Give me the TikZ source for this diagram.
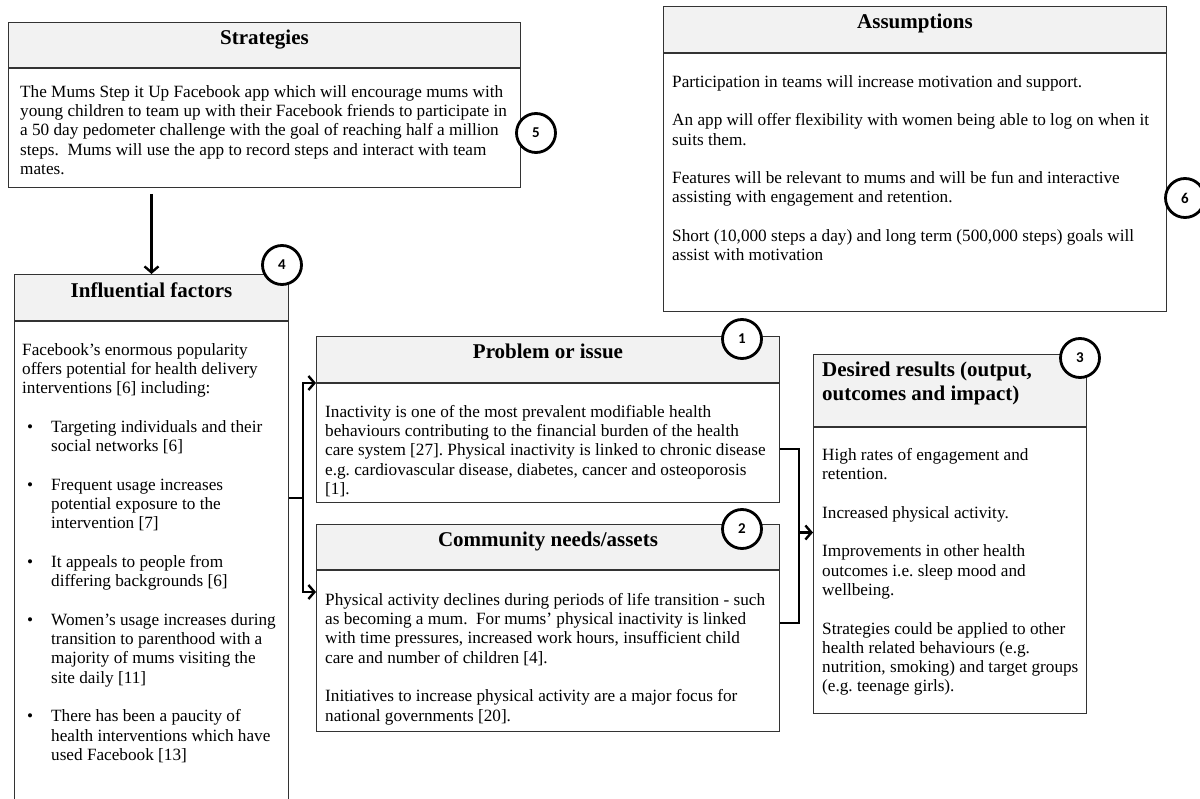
\documentclass[tikz,border=0pt]{standalone}
\usepackage{fontspec}
\setmainfont{Liberation Serif}
\newfontfamily\numfont{Carlito}
\usetikzlibrary{positioning,calc,arrows.meta}
\definecolor{headgray}{HTML}{F2F2F2}
\definecolor{edgegray}{HTML}{333333}
\frenchspacing
\newcommand{\bulit}{\makebox[29pt][l]{\hspace{5pt}\textbullet}}
\newcommand{\bulind}{\hspace*{29pt}}
\tikzset{
  headbox/.style={draw=edgegray, fill=headgray, line width=1pt, anchor=north west, inner sep=0pt},
  bodybox/.style={draw=edgegray, line width=1pt, inner sep=0pt},
  headtitle/.style={font=\bfseries\fontsize{21}{24}\selectfont, inner sep=0pt, anchor=north},
  bodytext/.style={font=\fontsize{17.2}{19.3}\selectfont, align=left, inner sep=0pt, anchor=north west},
  numcirc/.style={circle, draw, fill=white, line width=2.8pt, minimum size=39pt, inner sep=0pt, font=\numfont\bfseries\fontsize{15}{15}\selectfont},
  link/.style={line width=2.4pt},
  flow/.style={link, -{Straight Barb[length=6pt,width=14pt]}}
}
\begin{document}
\begin{tikzpicture}[x=1pt,y=-1pt]
\useasboundingbox (0,0) rectangle (1200,799);

% strategies
\node[headbox, minimum width=512pt, minimum height=45pt] (strathead) at (8,22) {};
\node[headtitle, below=8pt of strathead.north] (strattitle) {Strategies};
\node[bodybox, minimum width=512pt, minimum height=119pt, below=0pt of strathead] (stratbody) {};
\node[bodytext, below right=17pt and 12pt of stratbody.north west] (strattext) {The Mums Step it Up Facebook app which will encourage mums with\\
young children to team up with their Facebook friends to participate in\\
a 50 day pedometer challenge with the goal of reaching half a million\\
steps.\ \ Mums will use the app to record steps and interact with team\\
mates.};

% assumptions
\node[headbox, minimum width=503pt, minimum height=46pt] (assumhead) at (663,6) {};
\node[headtitle, below=8pt of assumhead.north] (assumtitle) {Assumptions};
\node[bodybox, minimum width=503pt, minimum height=258pt, below=0pt of assumhead] (assumbody) {};
\node[bodytext, below right=22pt and 9pt of assumbody.north west] (assumtext) {Participation in teams will increase motivation and support.\\[\baselineskip]
An app will offer flexibility with women being able to log on when it\\
suits them.\\[\baselineskip]
Features will be relevant to mums and will be fun and interactive\\
assisting with engagement and retention.\\[\baselineskip]
Short (10,000 steps a day) and long term (500,000 steps) goals will\\
assist with motivation};

% influential factors
\node[headbox, minimum width=274pt, minimum height=46pt] (infhead) at (14,274) {};
\node[headtitle, below=9pt of infhead.north] (inftitle) {Influential factors};
\node[bodybox, minimum width=274pt, minimum height=510pt, below=0pt of infhead] (infbody) {};
\node[bodytext, below right=22pt and 8pt of infbody.north west] (inftext) {Facebook’s enormous popularity\\
offers potential for health delivery\\
interventions [6] including:\\[\baselineskip]
\bulit Targeting individuals and their\\
\bulind social networks [6]\\[\baselineskip]
\bulit Frequent usage increases\\
\bulind potential exposure to the\\
\bulind intervention [7]\\[\baselineskip]
\bulit It appeals to people from\\
\bulind differing backgrounds [6]\\[\baselineskip]
\bulit Women’s usage increases during\\
\bulind transition to parenthood with a\\
\bulind majority of mums visiting the\\
\bulind site daily [11]\\[\baselineskip]
\bulit There has been a paucity of\\
\bulind health interventions which have\\
\bulind used Facebook [13]};

% problem or issue
\node[headbox, minimum width=463pt, minimum height=46pt] (probhead) at (316,336) {};
\node[headtitle, below=8pt of probhead.north] (probtitle) {Problem or issue};
\node[bodybox, minimum width=463pt, minimum height=119pt, below=0pt of probhead] (probbody) {};
\node[bodytext, below right=22pt and 9pt of probbody.north west] (probtext) {Inactivity is one of the most prevalent modifiable health\\
behaviours contributing to the financial burden of the health\\
care system [27]. Physical inactivity is linked to chronic disease\\
e.g. cardiovascular disease, diabetes, cancer and osteoporosis\\
{[1].}};

% community needs
\node[headbox, minimum width=463pt, minimum height=45pt] (commhead) at (316,524) {};
\node[headtitle, below=8pt of commhead.north] (commtitle) {Community needs/assets};
\node[bodybox, minimum width=463pt, minimum height=161pt, below=0pt of commhead] (commbody) {};
\node[bodytext, below right=23pt and 9pt of commbody.north west] (commtext) {Physical activity declines during periods of life transition - such\\
as becoming a mum.\ \ For mums’ physical inactivity is linked\\
with time pressures, increased work hours, insufficient child\\
care and number of children [4].\\[\baselineskip]
Initiatives to increase physical activity are a major focus for\\
national governments [20].};

% desired results
\node[headbox, minimum width=273pt, minimum height=72pt] (deshead) at (813,354) {};
\node[headtitle, align=left, below right=8pt and 9pt of deshead.north west] (destitle) {Desired results (output,\\ outcomes and impact)};
\node[bodybox, minimum width=273pt, minimum height=286pt, below=0pt of deshead] (desbody) {};
\node[bodytext, below right=21pt and 9pt of desbody.north west] (destext) {High rates of engagement and\\
retention.\\[\baselineskip]
Increased physical activity.\\[\baselineskip]
Improvements in other health\\
outcomes i.e. sleep mood and\\
wellbeing.\\[\baselineskip]
Strategies could be applied to other\\
health related behaviours (e.g.\\
nutrition, smoking) and target groups\\
(e.g. teenage girls).};

% connectors
\draw[flow, shorten <=6pt] (infhead.north |- stratbody.south) -- (infhead.north);
\coordinate (fork) at ([xshift=14pt,yshift=-177pt]infbody.north east);
\coordinate (commin) at ([yshift=-22pt]commbody.north west);
\draw[link] (fork -| infbody.east) -- (fork);
\draw[flow] (fork) |- (probhead.south west);
\draw[flow] (fork) |- (commin);
\coordinate (probout) at ([yshift=-66pt]probbody.north east);
\coordinate (commout) at ([yshift=-53pt]commbody.north east);
\draw[link] (probout) -- ++(19,0) |- (commout);
\coordinate (join) at ($(probout)!0.48!(commout)+(19pt,0)$);
\draw[flow] (join) -- (join -| desbody.west);

% numbers
\node[numcirc] (num1) at (742,339) {1};
\node[numcirc] (num2) at (742,529) {2};
\node[numcirc] (num3) at (1080,358) {3};
\node[numcirc] (num4) at (282,265) {4};
\node[numcirc] (num5) at (536,133) {5};
\node[numcirc] (num6) at (1185,198) {6};
\end{tikzpicture}
\end{document}
